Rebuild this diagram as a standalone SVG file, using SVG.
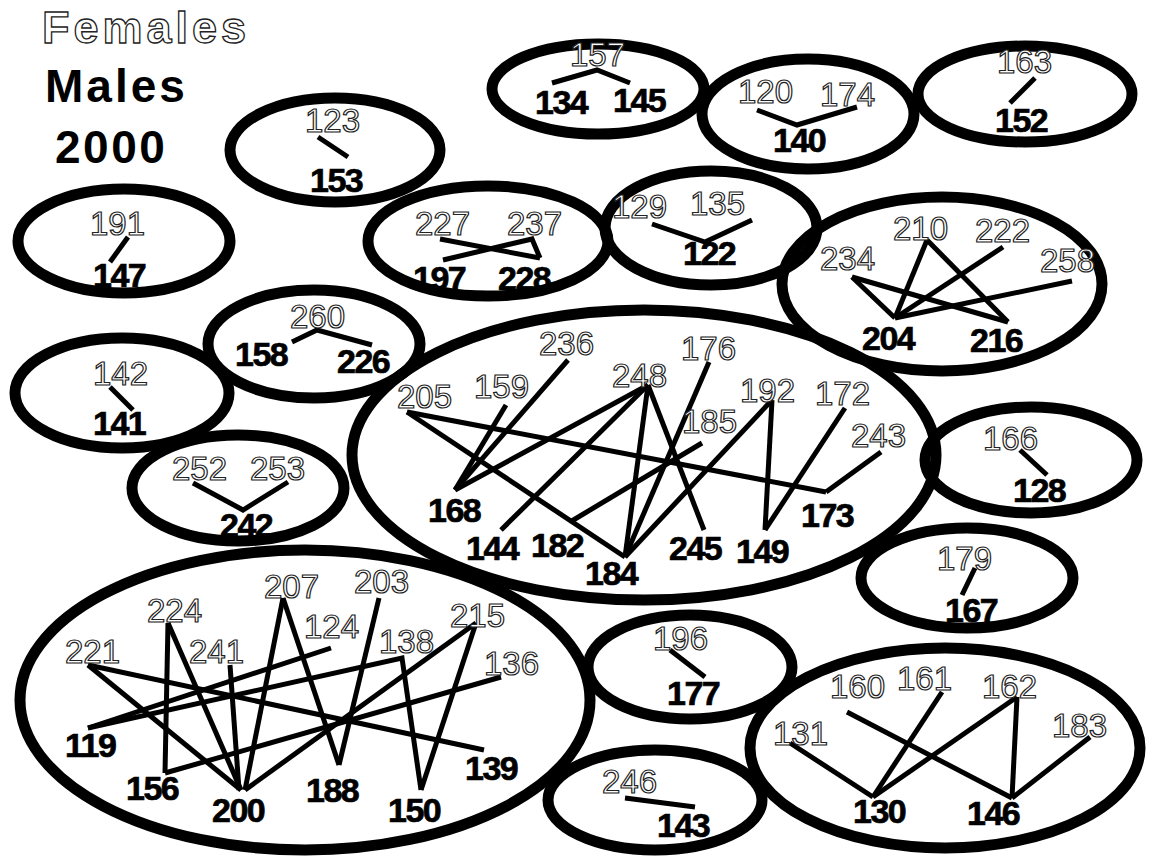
<svg xmlns="http://www.w3.org/2000/svg" width="1152" height="859" viewBox="0 0 1152 859">
<style>
.e{fill:none;stroke:#000;stroke-width:11}
.c line,.c polyline{stroke:#000;stroke-width:5;fill:none;stroke-linecap:butt;stroke-linejoin:miter}
.f{font-family:"Liberation Sans",Arial,sans-serif;font-size:33px;fill:#fff;stroke:#222;stroke-width:1.2}
.m{font-family:"Liberation Sans",Arial,sans-serif;font-size:34px;font-weight:bold;fill:#000;stroke:#000;stroke-width:0.7;letter-spacing:-1.5px}
.tf{font-family:"Liberation Sans",Arial,sans-serif;font-size:45px;font-weight:bold;fill:#fff;stroke:#222;stroke-width:1.3;letter-spacing:4px}
.tm{font-family:"Liberation Sans",Arial,sans-serif;font-size:46px;font-weight:bold;fill:#000}
</style>
<rect width="1152" height="859" fill="#fff"/>
<g id="legend">
<text class="tf" x="42" y="43">Females</text>
<text class="tm" x="45" y="102" letter-spacing="3">Males</text>
<text class="tm" x="55" y="163" letter-spacing="2.5">2000</text>
</g>
<g id="groups">
<ellipse id="g157" class="e" cx="598" cy="89" rx="106" ry="45"/>
<ellipse id="g120" class="e" cx="808" cy="114" rx="106" ry="55"/>
<ellipse id="g163" class="e" cx="1025" cy="94" rx="107" ry="48"/>
<ellipse id="g123" class="e" cx="335" cy="150" rx="105" ry="52"/>
<ellipse id="g191" class="e" cx="124" cy="241" rx="106" ry="52"/>
<ellipse id="g227" class="e" cx="488" cy="241" rx="120" ry="55"/>
<ellipse id="g129" class="e" cx="711" cy="228" rx="106" ry="57"/>
<ellipse id="g210" class="e" cx="942" cy="284" rx="160" ry="87"/>
<ellipse id="g260" class="e" cx="314" cy="344" rx="106" ry="54"/>
<ellipse id="g142" class="e" cx="122" cy="393" rx="107" ry="55"/>
<ellipse id="g252" class="e" cx="238" cy="488" rx="106" ry="53"/>
<ellipse id="gcentral" class="e" cx="644" cy="455" rx="292" ry="145"/>
<ellipse id="g166" class="e" cx="1031" cy="460" rx="106" ry="53"/>
<ellipse id="g179" class="e" cx="967" cy="578" rx="106" ry="50"/>
<ellipse id="gbl" class="e" cx="305" cy="700" rx="285" ry="150"/>
<ellipse id="g196" class="e" cx="690" cy="667" rx="102" ry="52"/>
<ellipse id="g246" class="e" cx="655" cy="800" rx="107" ry="50"/>
<ellipse id="gbr" class="e" cx="945" cy="748" rx="195" ry="100"/>
</g>
<g id="connectors" class="c">
<polyline points="552,83 597,70 630,83"/>
<polyline points="757,110 797,125 857,107"/>
<line x1="1035" y1="78" x2="1010" y2="103"/>
<line x1="318" y1="137" x2="348" y2="157"/>
<line x1="128" y1="237" x2="110" y2="262"/>
<polyline points="292,342 317,330 372,345"/>
<line x1="110" y1="387" x2="133" y2="410"/>
<polyline points="193,483 243,510 288,482"/>
<line x1="440" y1="239" x2="540" y2="258"/>
<polyline points="443,260 532,239 540,258"/>
<polyline points="652,224 705,242 752,220"/>
<line x1="927" y1="240" x2="895" y2="318"/>
<line x1="927" y1="240" x2="1008" y2="322"/>
<line x1="1003" y1="247" x2="895" y2="318"/>
<line x1="852" y1="277" x2="895" y2="318"/>
<line x1="852" y1="277" x2="1008" y2="322"/>
<line x1="1072" y1="281" x2="895" y2="318"/>
<line x1="407" y1="412" x2="826" y2="492"/>
<line x1="881" y1="452" x2="826" y2="492"/>
<line x1="407" y1="412" x2="625" y2="557"/>
<line x1="568" y1="360" x2="455" y2="490"/>
<line x1="506" y1="405" x2="455" y2="490"/>
<line x1="648" y1="385" x2="455" y2="490"/>
<line x1="648" y1="385" x2="501" y2="530"/>
<line x1="648" y1="385" x2="625" y2="557"/>
<line x1="648" y1="385" x2="704" y2="530"/>
<line x1="709" y1="362" x2="625" y2="557"/>
<line x1="702" y1="443" x2="570" y2="522"/>
<line x1="772" y1="400" x2="625" y2="557"/>
<line x1="772" y1="400" x2="765" y2="530"/>
<line x1="845" y1="408" x2="765" y2="530"/>
<line x1="88" y1="665" x2="484" y2="750"/>
<line x1="88" y1="665" x2="241" y2="790"/>
<line x1="168" y1="623" x2="165" y2="773"/>
<line x1="168" y1="623" x2="241" y2="790"/>
<line x1="230" y1="665" x2="239" y2="790"/>
<line x1="283" y1="598" x2="245" y2="790"/>
<line x1="283" y1="598" x2="339" y2="765"/>
<line x1="379" y1="598" x2="339" y2="765"/>
<line x1="331" y1="648" x2="88" y2="728"/>
<polyline points="88,728 402,658 421,790"/>
<line x1="476" y1="623" x2="245" y2="790"/>
<line x1="476" y1="623" x2="421" y2="790"/>
<line x1="501" y1="677" x2="165" y2="773"/>
<line x1="1020" y1="450" x2="1047" y2="475"/>
<line x1="975" y1="568" x2="962" y2="595"/>
<line x1="670" y1="650" x2="705" y2="677"/>
<line x1="625" y1="798" x2="695" y2="807"/>
<line x1="790" y1="743" x2="873" y2="797"/>
<line x1="942" y1="692" x2="873" y2="797"/>
<line x1="1017" y1="697" x2="873" y2="797"/>
<line x1="847" y1="712" x2="1012" y2="798"/>
<line x1="1017" y1="697" x2="1012" y2="798"/>
<line x1="1090" y1="737" x2="1012" y2="798"/>
</g>
<g id="females">
<g id="n157"><text class="f" x="570" y="66">157</text></g>
<g id="n120"><text class="f" x="738" y="103">120</text></g>
<g id="n174"><text class="f" x="820" y="106">174</text></g>
<g id="n163"><text class="f" x="997" y="73">163</text></g>
<g id="n123"><text class="f" x="305" y="132">123</text></g>
<g id="n191"><text class="f" x="90" y="235">191</text></g>
<g id="n227"><text class="f" x="415" y="235">227</text></g>
<g id="n237"><text class="f" x="507" y="235">237</text></g>
<g id="n129"><text class="f" x="612" y="218">129</text></g>
<g id="n135"><text class="f" x="690" y="215">135</text></g>
<g id="n210"><text class="f" x="893" y="240">210</text></g>
<g id="n222"><text class="f" x="975" y="242">222</text></g>
<g id="n234"><text class="f" x="820" y="270">234</text></g>
<g id="n258"><text class="f" x="1040" y="272">258</text></g>
<g id="n260"><text class="f" x="290" y="328">260</text></g>
<g id="n142"><text class="f" x="93" y="385">142</text></g>
<g id="n252"><text class="f" x="172" y="480">252</text></g>
<g id="n253"><text class="f" x="250" y="480">253</text></g>
<g id="n236"><text class="f" x="539" y="355">236</text></g>
<g id="n176"><text class="f" x="681" y="360">176</text></g>
<g id="n159"><text class="f" x="474" y="398">159</text></g>
<g id="n248"><text class="f" x="612" y="387">248</text></g>
<g id="n205"><text class="f" x="397" y="408">205</text></g>
<g id="n185"><text class="f" x="682" y="433">185</text></g>
<g id="n192"><text class="f" x="740" y="402">192</text></g>
<g id="n172"><text class="f" x="815" y="405">172</text></g>
<g id="n243"><text class="f" x="851" y="447">243</text></g>
<g id="n166"><text class="f" x="983" y="450">166</text></g>
<g id="n179"><text class="f" x="937" y="570">179</text></g>
<g id="n207"><text class="f" x="264" y="598">207</text></g>
<g id="n203"><text class="f" x="354" y="593">203</text></g>
<g id="n224"><text class="f" x="147" y="622">224</text></g>
<g id="n124"><text class="f" x="304" y="638">124</text></g>
<g id="n215"><text class="f" x="450" y="627">215</text></g>
<g id="n138"><text class="f" x="379" y="653">138</text></g>
<g id="n241"><text class="f" x="189" y="663">241</text></g>
<g id="n221"><text class="f" x="65" y="663">221</text></g>
<g id="n136"><text class="f" x="484" y="675">136</text></g>
<g id="n196"><text class="f" x="653" y="650">196</text></g>
<g id="n246"><text class="f" x="602" y="793">246</text></g>
<g id="n161"><text class="f" x="897" y="690">161</text></g>
<g id="n160"><text class="f" x="830" y="698">160</text></g>
<g id="n162"><text class="f" x="982" y="698">162</text></g>
<g id="n131"><text class="f" x="773" y="745">131</text></g>
<g id="n183"><text class="f" x="1052" y="737">183</text></g>
</g>
<g id="males">
<g id="n134"><text class="m" x="535" y="114">134</text></g>
<g id="n145"><text class="m" x="613" y="112">145</text></g>
<g id="n140"><text class="m" x="773" y="152">140</text></g>
<g id="n152"><text class="m" x="995" y="132">152</text></g>
<g id="n153"><text class="m" x="310" y="192">153</text></g>
<g id="n147"><text class="m" x="93" y="287">147</text></g>
<g id="n197"><text class="m" x="413" y="290">197</text></g>
<g id="n228"><text class="m" x="498" y="290">228</text></g>
<g id="n122"><text class="m" x="683" y="265">122</text></g>
<g id="n204"><text class="m" x="862" y="350">204</text></g>
<g id="n216"><text class="m" x="970" y="352">216</text></g>
<g id="n158"><text class="m" x="235" y="366">158</text></g>
<g id="n226"><text class="m" x="337" y="373">226</text></g>
<g id="n141"><text class="m" x="93" y="435">141</text></g>
<g id="n242"><text class="m" x="220" y="537">242</text></g>
<g id="n168"><text class="m" x="428" y="522">168</text></g>
<g id="n173"><text class="m" x="801" y="527">173</text></g>
<g id="n144"><text class="m" x="466" y="560">144</text></g>
<g id="n182"><text class="m" x="531" y="557">182</text></g>
<g id="n184"><text class="m" x="585" y="585">184</text></g>
<g id="n245"><text class="m" x="669" y="560">245</text></g>
<g id="n149"><text class="m" x="736" y="563">149</text></g>
<g id="n128"><text class="m" x="1013" y="502">128</text></g>
<g id="n167"><text class="m" x="945" y="622">167</text></g>
<g id="n119"><text class="m" x="65" y="757">119</text></g>
<g id="n139"><text class="m" x="465" y="780">139</text></g>
<g id="n156"><text class="m" x="126" y="800">156</text></g>
<g id="n188"><text class="m" x="306" y="802">188</text></g>
<g id="n200"><text class="m" x="212" y="822">200</text></g>
<g id="n150"><text class="m" x="388" y="822">150</text></g>
<g id="n177"><text class="m" x="667" y="705">177</text></g>
<g id="n143"><text class="m" x="657" y="837">143</text></g>
<g id="n130"><text class="m" x="853" y="823">130</text></g>
<g id="n146"><text class="m" x="967" y="825">146</text></g>
</g>
</svg>
